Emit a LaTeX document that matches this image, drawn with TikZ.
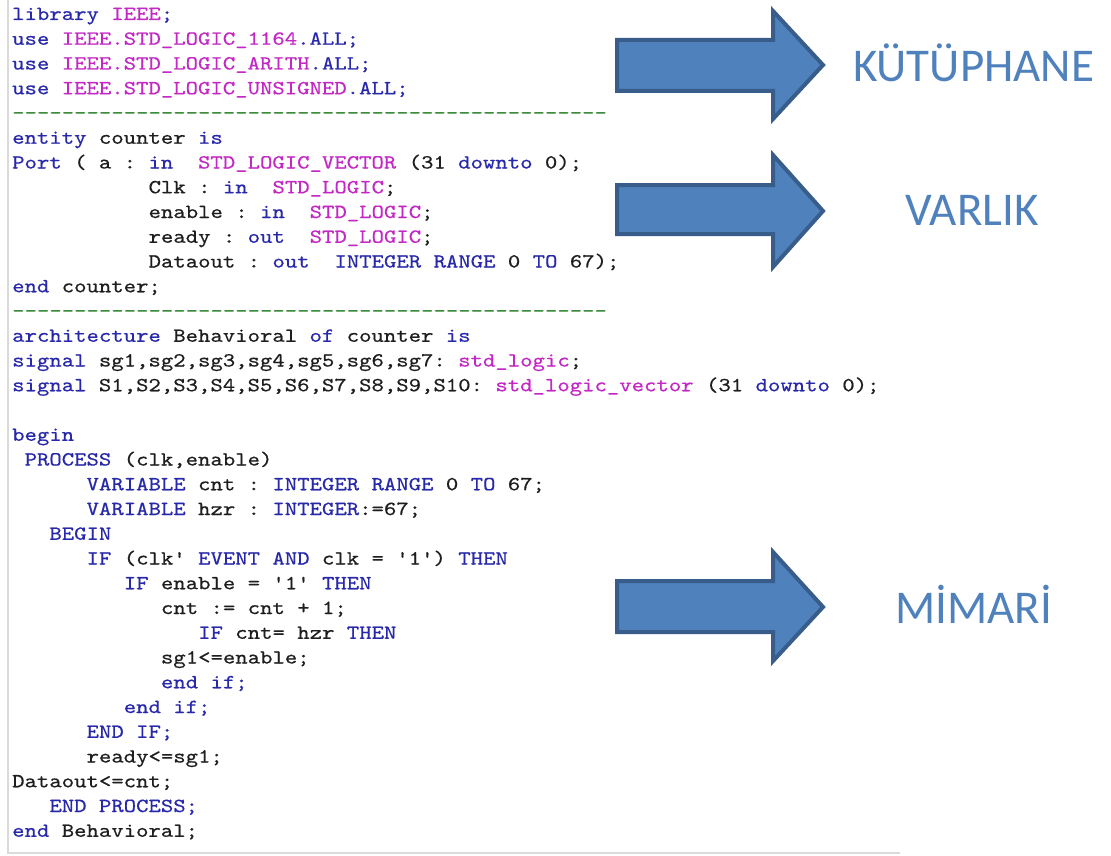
\documentclass[tikz,border=0pt]{standalone}
\usepackage{fontspec}
\setmonofont{lmmono10-regular.otf}[FakeStretch=1.18,FakeBold=0.5]
\newfontfamily\labelfont{Carlito}
\definecolor{kwblue}{RGB}{40,40,170}
\definecolor{tymag}{RGB}{196,40,196}
\definecolor{idblack}{RGB}{30,30,30}
\definecolor{dashgreen}{RGB}{60,140,60}
\definecolor{arrowfill}{RGB}{79,129,189}
\definecolor{arrowedge}{RGB}{56,93,138}
\definecolor{labelblue}{RGB}{79,129,189}
\definecolor{framegray}{RGB}{218,218,218}
\newcommand\KW[1]{\textcolor{kwblue}{#1}}
\newcommand\TY[1]{\textcolor{tymag}{#1}}
\tikzset{
  codeline/.style={anchor=base west, inner sep=0pt, text=idblack,
    font=\ttfamily\fontsize{20}{24}\selectfont},
  dashline/.style={codeline, text=dashgreen},
  bigarrow/.style={fill=arrowfill, draw=arrowedge, line width=4pt, line join=miter},
  partlabel/.style={anchor=base, inner sep=0pt, text=labelblue,
    font=\labelfont\fontsize{47}{50}\selectfont},
  frameline/.style={draw=framegray, line width=2pt}
}
\begin{document}
\begin{tikzpicture}[x=1pt,y=-1pt]
\useasboundingbox (0,0) rectangle (1111,856);
\fill[white] (0,0) rectangle (1111,856);
% editor frame
\draw[frameline] (8,0) -- (8,853) -- (900,853);
% code lines
\node[codeline] (l0) at (12,20) {\KW{library} \TY{IEEE}\KW{;}};
\node[codeline] (l1) at (12,44.75) {\KW{use} \TY{IEEE.STD\_LOGIC\_1164}\KW{.ALL;}};
\node[codeline] (l2) at (12,69.5) {\KW{use} \TY{IEEE.STD\_LOGIC\_ARITH}\KW{.ALL;}};
\node[codeline] (l3) at (12,94.25) {\KW{use} \TY{IEEE.STD\_LOGIC\_UNSIGNED}\KW{.ALL;}};
\node[dashline] (l4) at (12,119) {------------------------------------------------};
\node[codeline] (l5) at (12,143.75) {\KW{entity} counter \KW{is}};
\node[codeline] (l6) at (12,168.5) {\KW{Port} ( a : \KW{in}\ \ \TY{STD\_LOGIC\_VECTOR} (31 \KW{downto} 0);};
\node[codeline] (l7) at (148.4,193.25) {Clk : \KW{in}\ \ \TY{STD\_LOGIC};};
\node[codeline] (l8) at (148.4,218) {enable : \KW{in}\ \ \TY{STD\_LOGIC};};
\node[codeline] (l9) at (148.4,242.75) {ready : \KW{out}\ \ \TY{STD\_LOGIC};};
\node[codeline] (l10) at (148.4,267.5) {Dataout : \KW{out}\ \ \KW{INTEGER RANGE} 0 \KW{TO} 67);};
\node[codeline] (l11) at (12,292.25) {\KW{end} counter;};
\node[dashline] (l12) at (12,317) {------------------------------------------------};
\node[codeline] (l13) at (12,341.75) {\KW{architecture} Behavioral \KW{of} counter \KW{is}};
\node[codeline] (l14) at (12,366.5) {\KW{signal} sg1,sg2,sg3,sg4,sg5,sg6,sg7: \TY{std\_logic};};
\node[codeline] (l15) at (12,391.25) {\KW{signal} S1,S2,S3,S4,S5,S6,S7,S8,S9,S10: \TY{std\_logic\_vector} (31 \KW{downto} 0);};
\node[codeline] (l17) at (12,440.75) {\KW{begin}};
\node[codeline] (l18) at (24.4,465.5) {\KW{PROCESS} (clk,enable)};
\node[codeline] (l19) at (86.4,490.25) {\KW{VARIABLE} cnt : \KW{INTEGER RANGE} 0 \KW{TO} 67;};
\node[codeline] (l20) at (86.4,515) {\KW{VARIABLE} hzr : \KW{INTEGER}:=67;};
\node[codeline] (l21) at (49.2,539.75) {\KW{BEGIN}};
\node[codeline] (l22) at (86.4,564.5) {\KW{IF} (clk' \KW{EVENT AND} clk = '1') \KW{THEN}};
\node[codeline] (l23) at (123.6,589.25) {\KW{IF} enable = '1' \KW{THEN}};
\node[codeline] (l24) at (160.8,614) {cnt := cnt + 1;};
\node[codeline] (l25) at (198,638.75) {\KW{IF} cnt= hzr \KW{THEN}};
\node[codeline] (l26) at (160.8,663.5) {sg1<=enable;};
\node[codeline] (l27) at (160.8,688.25) {\KW{end if;}};
\node[codeline] (l28) at (123.6,713) {\KW{end if;}};
\node[codeline] (l29) at (86.4,737.75) {\KW{END IF;}};
\node[codeline] (l30) at (86.4,762.5) {ready<=sg1;};
\node[codeline] (l31) at (12,787.25) {Dataout<=cnt;};
\node[codeline] (l32) at (49.2,812) {\KW{END PROCESS;}};
\node[codeline] (l33) at (12,836.75) {\KW{end} Behavioral;};
% arrows
\draw[bigarrow] (617,40) -- (773,40) -- (773,11) -- (823,65) -- (773,119) -- (773,91) -- (617,91) -- cycle;
\draw[bigarrow] (617,185) -- (773,185) -- (773,155) -- (823,211) -- (773,267) -- (773,234) -- (617,234) -- cycle;
\draw[bigarrow] (617,581) -- (773,581) -- (773,552) -- (823,607) -- (773,661) -- (773,632) -- (617,632) -- cycle;
% labels
\node[partlabel] (lib) at (973.5,82) {KÜTÜPHANE};
\node[partlabel] (ent) at (972,225) {VARLIK};
\node[partlabel] (arch) at (973.5,623) {MİMARİ};
\end{tikzpicture}
\end{document}
